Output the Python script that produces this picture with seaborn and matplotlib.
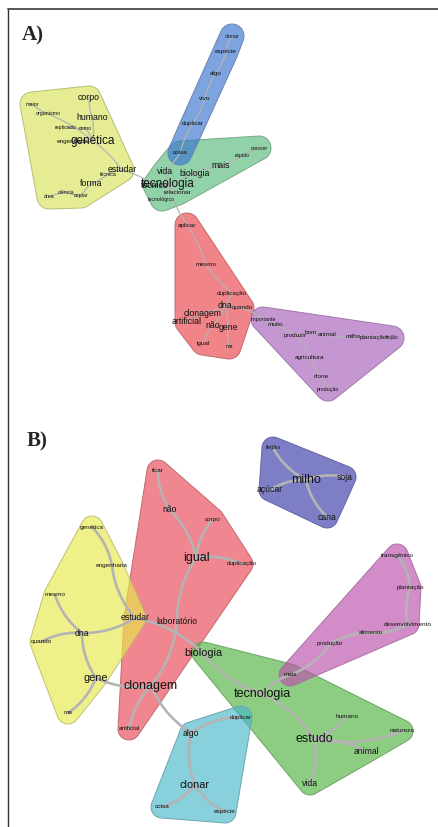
import numpy as np
import pandas as pd
import matplotlib
matplotlib.use("Agg")
import matplotlib.pyplot as plt
from matplotlib.patches import Polygon
from matplotlib.colors import to_rgb
import seaborn as sns

# ---- painel A: palavras, posicoes (px) e peso ----
words_a = ["maior", "organismo", "corpo", "humano", "replicado", "como", "engenharia", "genética",
           "estudar", "técnica", "forma", "ciência", "copiar", "área",
           "tecnologia", "técnico", "vida", "biologia", "mais", "rápido", "crescer", "relacionar", "tecnológico",
           "coisa", "duplicar", "vivo", "algo", "espécie", "clonar",
           "aplicar", "mesmo", "duplicação", "dna", "quando", "clonagem", "artificial", "não", "gene", "igual", "ma",
           "importante", "muito", "produzir", "bom", "animal", "milho", "plantação", "feijão",
           "agricultura", "clone", "produção"]
x_a = [32, 48, 89, 92, 66, 85, 73, 93, 122, 108, 91, 66, 81, 49,
       168, 155, 165, 195, 221, 242, 259, 178, 162,
       180, 193, 205, 216, 226, 232,
       187, 206, 232, 225, 242, 203, 187, 213, 228, 203, 229,
       263, 275, 295, 311, 327, 353, 373, 392, 310, 321, 328]
y_a = [104, 114, 98, 117, 127, 128, 142, 141, 170, 174, 184, 192, 196, 197,
       184, 185, 171, 173, 166, 156, 148, 193, 199,
       153, 123, 98, 73, 52, 36,
       225, 265, 293, 305, 308, 313, 322, 326, 328, 343, 347,
       319, 325, 335, 332, 335, 337, 337, 338, 358, 377, 389]
weight_a = [1, 1, 3, 3, 1, 1, 2, 4, 3, 1, 3, 1, 1, 1,
            4, 3, 3, 3, 3, 1, 1, 2, 1,
            2, 2, 2, 2, 2, 1,
            2, 2, 2, 3, 2, 3, 3, 3, 3, 2, 1,
            1, 2, 2, 2, 2, 2, 2, 1, 2, 2, 1]
edges_a = [("maior", "organismo"), ("organismo", "genética"), ("corpo", "humano"), ("humano", "genética"),
           ("replicado", "como"), ("como", "genética"), ("engenharia", "genética"), ("genética", "estudar"),
           ("estudar", "técnica"), ("técnica", "forma"), ("forma", "copiar"), ("copiar", "ciência"),
           ("ciência", "área"), ("estudar", "técnico"), ("técnico", "tecnologia"), ("tecnologia", "vida"),
           ("vida", "coisa"), ("coisa", "duplicar"), ("duplicar", "vivo"), ("vivo", "algo"), ("algo", "espécie"),
           ("espécie", "clonar"), ("tecnologia", "biologia"), ("biologia", "mais"), ("mais", "rápido"),
           ("rápido", "crescer"), ("tecnologia", "relacionar"), ("tecnologia", "tecnológico"),
           ("tecnologia", "aplicar"), ("aplicar", "mesmo"), ("mesmo", "duplicação"), ("duplicação", "dna"),
           ("dna", "quando"), ("dna", "clonagem"), ("clonagem", "artificial"), ("dna", "não"), ("não", "igual"),
           ("dna", "gene"), ("gene", "ma"), ("quando", "importante"), ("importante", "muito"),
           ("muito", "produzir"), ("produzir", "bom"), ("bom", "animal"), ("animal", "milho"),
           ("milho", "plantação"), ("plantação", "feijão"), ("produzir", "agricultura"),
           ("agricultura", "clone"), ("clone", "produção")]
halos_a = [("#e6ec93", ["maior", "organismo", "corpo", "humano", "replicado", "como", "engenharia", "genética",
                        "estudar", "técnica", "forma", "ciência", "copiar", "área"]),
           ("#92d3aa", ["tecnologia", "técnico", "vida", "biologia", "mais", "rápido", "crescer",
                        "relacionar", "tecnológico", "coisa"]),
           ("#7ea4e0", ["coisa", "duplicar", "vivo", "algo", "espécie", "clonar"]),
           ("#f08489", ["aplicar", "mesmo", "duplicação", "dna", "quando", "clonagem", "artificial",
                        "não", "gene", "igual", "ma"]),
           ("#c597d3", ["importante", "muito", "produzir", "bom", "animal", "milho", "plantação", "feijão",
                        "agricultura", "clone", "produção"])]

# ---- painel B ----
words_b = ["ficar", "não", "corpo", "igual", "duplicação", "laboratório", "clonagem", "artificial",
           "genética", "engenharia", "mesmo", "estudar", "dna", "quando", "gene", "ma",
           "biologia", "tecnologia", "mais", "humano", "natureza", "estudo", "animal", "vida",
           "duplicar", "algo", "clonar", "coisa", "espécie",
           "feijão", "milho", "soja", "açúcar", "cana",
           "transgênico", "plantação", "desenvolvimento", "alimento", "produção"]
x_b = [158, 170, 213, 196, 242, 177, 151, 129,
       92, 112, 55, 135, 82, 41, 96, 68,
       203, 262, 290, 347, 402, 314, 366, 310,
       241, 191, 195, 162, 225,
       273, 306, 345, 270, 327,
       397, 410, 408, 371, 330]
y_b = [471, 510, 519, 558, 564, 621, 686, 729,
       527, 566, 595, 618, 633, 642, 678, 713,
       653, 694, 675, 716, 731, 739, 752, 784,
       717, 733, 785, 807, 812,
       448, 480, 477, 490, 517,
       555, 588, 624, 633, 644]
weight_b = [1, 2, 1, 4, 1, 2, 4, 1,
            1, 1, 1, 2, 2, 1, 3, 1,
            3, 4, 1, 1, 1, 4, 2, 2,
            1, 2, 3, 1, 1,
            1, 4, 2, 2, 2,
            1, 1, 1, 1, 1]
edges_b = [("ficar", "não"), ("não", "igual"), ("corpo", "igual"), ("igual", "duplicação"),
           ("igual", "laboratório"), ("laboratório", "clonagem"), ("clonagem", "artificial"),
           ("genética", "engenharia"), ("engenharia", "estudar"), ("estudar", "dna"), ("mesmo", "dna"),
           ("quando", "dna"), ("dna", "gene"), ("gene", "ma"), ("gene", "clonagem"), ("estudar", "biologia"),
           ("biologia", "tecnologia"), ("tecnologia", "mais"), ("mais", "produção"), ("produção", "alimento"),
           ("alimento", "desenvolvimento"), ("desenvolvimento", "plantação"), ("plantação", "transgênico"),
           ("tecnologia", "estudo"), ("estudo", "humano"), ("estudo", "animal"), ("estudo", "natureza"),
           ("estudo", "vida"), ("clonagem", "algo"), ("algo", "duplicar"), ("algo", "clonar"),
           ("clonar", "coisa"), ("clonar", "espécie"), ("milho", "feijão"), ("milho", "açúcar"),
           ("milho", "soja"), ("milho", "cana")]
halos_b = [("#f0878f", ["ficar", "não", "corpo", "igual", "duplicação", "laboratório", "clonagem",
                        "artificial", "estudar"]),
           ("#f0f08a", ["genética", "engenharia", "mesmo", "estudar", "dna", "quando", "gene", "ma"]),
           ("#8ccd82", ["biologia", "tecnologia", "mais", "humano", "natureza", "estudo", "animal", "vida"]),
           ("#88d0dc", ["duplicar", "algo", "clonar", "coisa", "espécie"]),
           ("#7e7ec8", ["feijão", "milho", "soja", "açúcar", "cana"]),
           ("#d38dc9", ["mais", "produção", "alimento", "desenvolvimento", "plantação", "transgênico"])]


def casco(pts):
    pts = sorted(set(pts))

    def cross(o, a, b):
        return (a[0] - o[0]) * (b[1] - o[1]) - (a[1] - o[1]) * (b[0] - o[0])
    lower, upper = [], []
    for p in pts:
        while len(lower) >= 2 and cross(lower[-2], lower[-1], p) <= 0:
            lower.pop()
        lower.append(p)
    for p in reversed(pts):
        while len(upper) >= 2 and cross(upper[-2], upper[-1], p) <= 0:
            upper.pop()
        upper.append(p)
    return lower[:-1] + upper[:-1]


def desenha_halo(ax, pos, membros, cor, r, alpha=0.65):
    ang = np.linspace(0, 2 * np.pi, 48, endpoint=False)
    pts = []
    for w in membros:
        x, y = pos[w]
        pts += [(round(x + r * np.cos(a), 3), round(y + r * np.sin(a), 3)) for a in ang]
    rgb = np.array(to_rgb(cor))
    base = np.clip((rgb - (1 - alpha)) / alpha, 0, 1)
    ax.add_patch(Polygon(casco(pts), closed=True, fc=(*base, alpha), ec=rgb * 0.8,
                         lw=0.7, zorder=1))


def arestas(pos, edges, bend):
    rows = []
    t = np.linspace(0, 1, 30)
    for i, (a, b) in enumerate(edges):
        p0, p2 = np.array(pos[a], float), np.array(pos[b], float)
        d = p2 - p0
        perp = np.array([-d[1], d[0]])
        s = bend if i % 2 == 0 else -bend
        p1 = (p0 + p2) / 2 + s * perp
        pts = ((1 - t)[:, None] ** 2) * p0 + (2 * (1 - t) * t)[:, None] * p1 + (t[:, None] ** 2) * p2
        for x, y in pts:
            rows.append({"x": x, "y": y, "edge": i})
    return pd.DataFrame(rows)


def painel(ax, words, xs, ys, weights, edges, halos, sizes, r, lw, bend):
    pos = {w: (x, y) for w, x, y in zip(words, xs, ys)}
    for cor, membros in halos:
        desenha_halo(ax, pos, membros, cor, r)
    df = arestas(pos, edges, bend)
    sns.lineplot(data=df, x="x", y="y", units="edge", estimator=None, sort=False,
                 color="#b4b4b4", lw=lw, ax=ax, legend=False, zorder=2)
    for w, x, y, k in zip(words, xs, ys, weights):
        ax.text(x, y, w, fontsize=sizes[k], ha="center", va="center", color="#111111", zorder=4)


sns.set_theme(style="white")
plt.rcParams["font.family"] = ["Liberation Sans", "DejaVu Sans"]

fig = plt.figure(figsize=(4.39, 8.27), dpi=100)
ax = fig.add_axes([0, 0, 1, 1])

painel(ax, words_a, x_a, y_a, weight_a, edges_a, halos_a,
       {4: 8.5, 3: 6.3, 2: 4.6, 1: 3.8}, r=12, lw=0.9, bend=0.08)
painel(ax, words_b, x_b, y_b, weight_b, edges_b, halos_b,
       {4: 9.0, 3: 7.8, 2: 6.2, 1: 4.6}, r=11, lw=1.9, bend=0.15)

ax.text(22, 35, "A)", fontsize=15, fontweight="bold", family=["Liberation Serif"], va="center", ha="left")
ax.text(27, 441, "B)", fontsize=15, fontweight="bold", family=["Liberation Serif"], va="center", ha="left")

# moldura
ax.plot([8, 8], [827, 9], color="#333333", lw=1.0, zorder=5)
ax.plot([8, 439], [9, 9], color="#555555", lw=1.4, zorder=5)

ax.set_xlim(0, 439)
ax.set_ylim(827, 0)
ax.set_axis_off()
fig.savefig("out.png", dpi=100, facecolor="white")
